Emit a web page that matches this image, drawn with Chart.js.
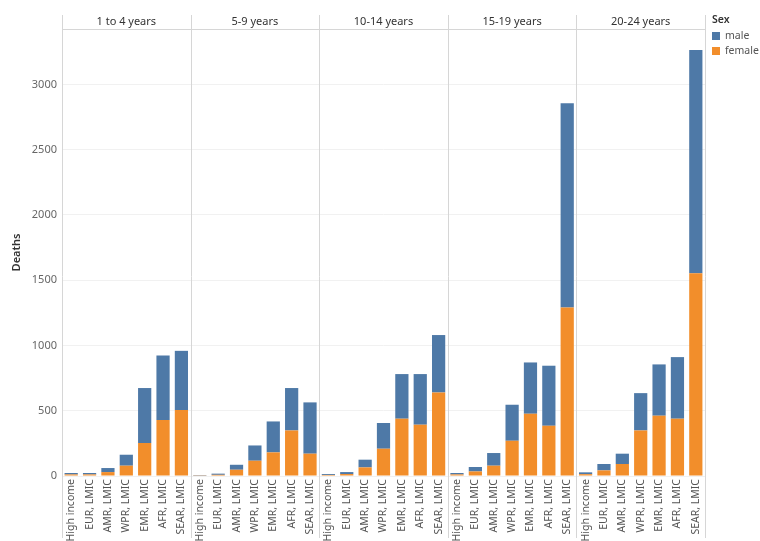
<!DOCTYPE html>
<html>
<head>
<meta charset="utf-8">
<script src="https://cdn.jsdelivr.net/npm/chart.js@4/dist/chart.umd.min.js"></script>
<style>
  html, body { margin: 0; padding: 0; background: #fff; }
  #wrap { position: relative; width: 760px; height: 541px; }
  #legend { position: absolute; left: 712px; top: 12px; font-family: "Noto Sans", sans-serif; font-size: 10.5px; color: #333; line-height: 15px; }
  #legend .t { font-weight: 600; color: #333; margin-bottom: 1px; }
  #legend .i { display: flex; align-items: center; color: #555; }
  #legend .s { width: 8px; height: 8px; margin-right: 5px; display: inline-block; }
</style>
</head>
<body>
<div id="wrap">
  <canvas id="c" width="760" height="541"></canvas>
  <div id="legend">
    <div class="t">Sex</div>
    <div class="i"><span class="s" style="background:#4e79a7"></span>male</div>
    <div class="i"><span class="s" style="background:#f28e2b"></span>female</div>
  </div>
</div>
<script>
const ageGroups = ["1 to 4 years", "5-9 years", "10-14 years", "15-19 years", "20-24 years"];
const regions = ["High income", "EUR, LMIC", "AMR, LMIC", "WPR, LMIC", "EMR, LMIC", "AFR, LMIC", "SEAR, LMIC"];
const yTicks = [0, 500, 1000, 1500, 2000, 2500, 3000];

// female deaths per age group (regions in order)
const female1to4 = [12, 12, 30, 79, 253, 429, 505];
const female5to9 = [2, 9, 48, 117, 181, 349, 171];
const female10to14 = [8, 15, 66, 209, 439, 393, 640];
const female15to19 = [12, 35, 79, 270, 477, 385, 1291];
const female20to24 = [14, 43, 92, 349, 462, 439, 1554];

// male deaths per age group
const male1to4 = [11, 11, 31, 84, 421, 494, 454];
const male5to9 = [3, 9, 38, 117, 237, 325, 393];
const male10to14 = [7, 15, 59, 197, 342, 388, 440];
const male15to19 = [11, 34, 97, 276, 393, 460, 1565];
const male20to24 = [14, 49, 79, 286, 393, 472, 1710];

const femaleAll = [].concat(female1to4, female5to9, female10to14, female15to19, female20to24);
const maleAll = [].concat(male1to4, male5to9, male10to14, male15to19, male20to24);
const labels = [];
ageGroups.forEach(() => regions.forEach(r => labels.push(r)));

const FONT = '"Noto Sans", sans-serif';

const facetPlugin = {
  id: 'facets',
  beforeDatasetsDraw(chart) {
    const ctx = chart.ctx, x = chart.scales.x, ca = chart.chartArea;
    const n = regions.length;
    ctx.save();
    ctx.strokeStyle = '#d6d6d6';
    ctx.lineWidth = 1;
    ctx.beginPath();
    ctx.moveTo(ca.left, ca.top + 0.5);
    ctx.lineTo(ca.right, ca.top + 0.5);
    ctx.stroke();
    for (let g = 0; g <= ageGroups.length; g++) {
      let px;
      if (g === 0) px = ca.left;
      else if (g === ageGroups.length) px = ca.right;
      else px = (x.getPixelForValue(g * n - 1) + x.getPixelForValue(g * n)) / 2;
      px = Math.round(px) + 0.5;
      ctx.beginPath();
      ctx.moveTo(px, 15);
      ctx.lineTo(px, 538);
      ctx.stroke();
    }
    ctx.fillStyle = '#333';
    ctx.font = '11px ' + FONT;
    ctx.textAlign = 'center';
    ctx.textBaseline = 'middle';
    ageGroups.forEach((a, g) => {
      const l = g === 0 ? ca.left : (x.getPixelForValue(g * n - 1) + x.getPixelForValue(g * n)) / 2;
      const r = g === ageGroups.length - 1 ? ca.right : (x.getPixelForValue((g + 1) * n - 1) + x.getPixelForValue((g + 1) * n)) / 2;
      ctx.fillText(a, (l + r) / 2, 22);
    });
    ctx.restore();
  }
};

new Chart(document.getElementById('c'), {
  type: 'bar',
  data: {
    labels: labels,
    datasets: [
      { label: 'female', data: femaleAll, backgroundColor: '#f28e2b', stack: 's', barPercentage: 0.72, categoryPercentage: 1.0 },
      { label: 'male', data: maleAll, backgroundColor: '#4e79a7', stack: 's', barPercentage: 0.72, categoryPercentage: 1.0 }
    ]
  },
  options: {
    responsive: false,
    animation: false,
    layout: { padding: { left: 0, right: 55, top: 29, bottom: 0 } },
    plugins: { legend: { display: false }, tooltip: { enabled: false } },
    scales: {
      x: {
        stacked: true,
        offset: true,
        grid: { display: false, drawTicks: false },
        border: { display: false },
        afterFit(s) { s.height = 65; },
        ticks: {
          autoSkip: false, maxRotation: 90, minRotation: 90, padding: 3,
          color: '#555', font: { family: FONT, size: 10.5 }
        }
      },
      y: {
        stacked: true,
        min: 0, max: 3425,
        afterFit(s) { s.width = 62; },
        afterBuildTicks(s) { s.ticks = yTicks.map(v => ({ value: v })); },
        grid: { color: '#f1f1f1', drawTicks: false },
        border: { display: false },
        ticks: { padding: 5, color: '#666', font: { family: FONT, size: 11 }, callback: v => String(v) },
        title: { display: true, text: 'Deaths', color: '#333', font: { family: FONT, size: 11, weight: '600' }, padding: { top: 10, bottom: 0 } }
      }
    }
  },
  plugins: [facetPlugin]
});
</script>
</body>
</html>
